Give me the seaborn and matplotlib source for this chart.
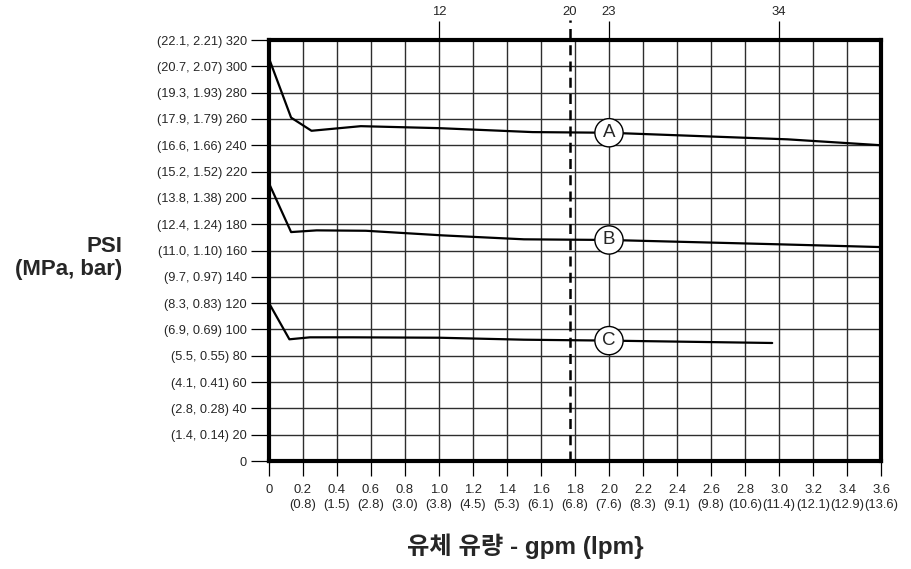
import matplotlib
matplotlib.use("Agg")
import matplotlib.pyplot as plt
import seaborn as sns
import pandas as pd

# ---- data ----
x_ticks = [0, 0.2, 0.4, 0.6, 0.8, 1.0, 1.2, 1.4, 1.6, 1.8, 2.0, 2.2, 2.4, 2.6, 2.8, 3.0, 3.2, 3.4, 3.6]
x_tick_labels = ["0", "0.2\n(0.8)", "0.4\n(1.5)", "0.6\n(2.8)", "0.8\n(3.0)", "1.0\n(3.8)",
                 "1.2\n(4.5)", "1.4\n(5.3)", "1.6\n(6.1)", "1.8\n(6.8)", "2.0\n(7.6)",
                 "2.2\n(8.3)", "2.4\n(9.1)", "2.6\n(9.8)", "2.8\n(10.6)", "3.0\n(11.4)",
                 "3.2\n(12.1)", "3.4\n(12.9)", "3.6\n(13.6)"]
y_ticks = [0, 20, 40, 60, 80, 100, 120, 140, 160, 180, 200, 220, 240, 260, 280, 300, 320]
y_tick_labels = ["0", "(1.4, 0.14) 20", "(2.8, 0.28) 40", "(4.1, 0.41) 60", "(5.5, 0.55) 80",
                 "(6.9, 0.69) 100", "(8.3, 0.83) 120", "(9.7, 0.97) 140", "(11.0, 1.10) 160",
                 "(12.4, 1.24) 180", "(13.8, 1.38) 200", "(15.2, 1.52) 220", "(16.6, 1.66) 240",
                 "(17.9, 1.79) 260", "(19.3, 1.93) 280", "(20.7, 2.07) 300", "(22.1, 2.21) 320"]
top_ticks = [1.0, 2.0, 3.0]
top_tick_labels = ["12", "23", "34"]
dashed_x = 1.77
dashed_label = "20"

A_x = [0, 0.13, 0.25, 0.54, 1.0, 1.55, 2.0, 3.05, 3.6]
A_y = [306, 261, 251, 254.5, 253, 250, 249.5, 244.5, 240]
B_x = [0, 0.13, 0.28, 0.57, 1.02, 1.5, 2.0, 3.0, 3.6]
B_y = [211, 174, 175.3, 175, 171.5, 168.5, 168, 164.7, 162.6]
C_x = [0, 0.12, 0.24, 0.49, 1.0, 1.5, 2.0, 2.96]
C_y = [120, 92.5, 94, 94, 93.7, 92.2, 91.5, 89.7]
curve_names = ["A", "B", "C"]
label_x = 2.0
label_y = [249.5, 168, 91.5]

df = pd.concat([
    pd.DataFrame({"gpm": A_x, "psi": A_y, "curve": "A"}),
    pd.DataFrame({"gpm": B_x, "psi": B_y, "curve": "B"}),
    pd.DataFrame({"gpm": C_x, "psi": C_y, "curve": "C"}),
])

sns.set_style("white")
plt.rcParams["font.family"] = ["Liberation Sans", "Noto Sans CJK KR", "DejaVu Sans"]

fig = plt.figure(figsize=(9.12, 5.69), dpi=100)
ax = fig.add_axes([269/912, 108/569, 612/912, 421/569])

sns.lineplot(data=df, x="gpm", y="psi", units="curve", estimator=None, color="black",
             linewidth=1.6, ax=ax, legend=False, sort=False)

ax.set_xlim(0, 3.6)
ax.set_ylim(0, 320)
ax.set_xticks(x_ticks)
ax.set_xticklabels(x_tick_labels, fontsize=9.4, linespacing=1.3)
ax.set_yticks(y_ticks)
ax.set_yticklabels(y_tick_labels, fontsize=9.2)
ax.tick_params(axis="x", bottom=True, direction="out", length=11, width=0.9, color="black", pad=5.5)
ax.tick_params(axis="y", left=True, direction="out", length=13, width=0.9, color="black", pad=3)
ax.grid(True, color="#2e2e2e", linewidth=1.0)
ax.set_axisbelow(True)
for s in ax.spines.values():
    s.set_visible(True)
    s.set_linewidth(3)
    s.set_color("black")
ax.set_xlabel("")
ax.set_ylabel("")

# top axis
sec = ax.secondary_xaxis("top")
sec.set_xticks(top_ticks + [dashed_x])
sec.set_xticklabels(top_tick_labels + [dashed_label], fontsize=9.4)
sec.tick_params(top=True, direction="out", length=14, width=0.9, color="black", pad=2)
sec.spines["top"].set_visible(False)
tk = sec.xaxis.get_major_ticks()
tk[-1].tick2line.set_visible(False)
tk[-1].tick1line.set_visible(False)

ax.axvline(dashed_x, ymin=0, ymax=1.048, color="black", linewidth=1.8,
           linestyle=(0, (4, 2.5)), clip_on=False, zorder=3)

for name, yv in zip(curve_names, label_y):
    ax.text(label_x, yv, name, ha="center", va="center", fontsize=13.5, zorder=5,
            bbox=dict(boxstyle="circle,pad=0.3", fc="white", ec="black", lw=1.0))

fig.text(122/912, 0.5466, "PSI\n(MPa, bar)", ha="right", va="center", fontsize=16,
         fontweight="bold", multialignment="right", linespacing=1.15)
fig.text(525/912, (569-546)/569, "유체 유량 - gpm (lpm}", ha="center", va="center", fontsize=17.5,
         fontweight="bold")

fig.savefig("out.png", dpi=100)
